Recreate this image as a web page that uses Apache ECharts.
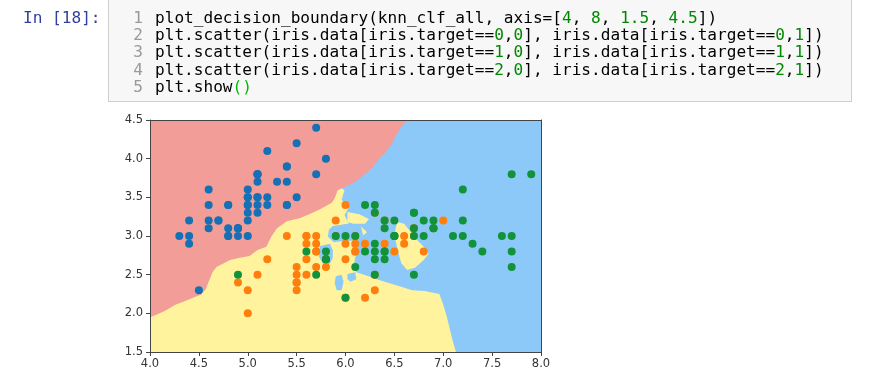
<!DOCTYPE html>
<html>
<head>
<meta charset="utf-8">
<script src="https://cdn.jsdelivr.net/npm/echarts@6/dist/echarts.min.js"></script>
<style>
  html,body{margin:0;padding:0;background:#fff;width:874px;height:376px;overflow:hidden;}
  #chart{position:absolute;left:0;top:0;width:874px;height:376px;}
  #prompt{position:absolute;left:23px;top:9px;height:17px;line-height:17px;font-family:"DejaVu Sans Mono",monospace;font-size:16.1px;color:#303F9F;z-index:5;white-space:pre;}
  #cell{position:absolute;left:108px;top:-2px;width:744px;height:104px;background:#f7f7f7;border:1px solid #cfcfcf;box-sizing:border-box;z-index:4;}
  .ln{position:absolute;left:108px;width:35px;text-align:right;height:17px;line-height:17px;font-family:"DejaVu Sans Mono",monospace;font-size:16.1px;color:#999;z-index:5;}
  .code{position:absolute;left:155px;height:17px;line-height:17px;font-family:"DejaVu Sans Mono",monospace;font-size:16.1px;color:#000;z-index:5;white-space:pre;}
  .n{color:#008800;}
  .b{color:#00bb00;}
</style>
</head>
<body>
<div id="chart"></div>
<div id="cell"></div>
<div id="prompt">In [18]:</div>
<div class="ln" style="top:9px">1</div>
<div class="ln" style="top:26px">2</div>
<div class="ln" style="top:43px">3</div>
<div class="ln" style="top:61px">4</div>
<div class="ln" style="top:78px">5</div>
<div class="code" style="top:9px">plot_decision_boundary(knn_clf_all, axis=[<span class="n">4</span>, <span class="n">8</span>, <span class="n">1.5</span>, <span class="n">4.5</span>])</div>
<div class="code" style="top:26px">plt.scatter(iris.data[iris.target==<span class="n">0</span>,<span class="n">0</span>], iris.data[iris.target==<span class="n">0</span>,<span class="n">1</span>])</div>
<div class="code" style="top:43px">plt.scatter(iris.data[iris.target==<span class="n">1</span>,<span class="n">0</span>], iris.data[iris.target==<span class="n">1</span>,<span class="n">1</span>])</div>
<div class="code" style="top:61px">plt.scatter(iris.data[iris.target==<span class="n">2</span>,<span class="n">0</span>], iris.data[iris.target==<span class="n">2</span>,<span class="n">1</span>])</div>
<div class="code" style="top:78px">plt.show<span class="b">()</span></div>
<script>
// ---- data: iris sepal length / sepal width ----
var setosa = [[5.1,3.5],[4.9,3.0],[4.7,3.2],[4.6,3.1],[5.0,3.6],[5.4,3.9],[4.6,3.4],[5.0,3.4],[4.4,2.9],[4.9,3.1],
  [5.4,3.7],[4.8,3.4],[4.8,3.0],[4.3,3.0],[5.8,4.0],[5.7,4.4],[5.4,3.9],[5.1,3.5],[5.7,3.8],[5.1,3.8],
  [5.4,3.4],[5.1,3.7],[4.6,3.6],[5.1,3.3],[4.8,3.4],[5.0,3.0],[5.0,3.4],[5.2,3.5],[5.2,3.4],[4.7,3.2],
  [4.8,3.1],[5.4,3.4],[5.2,4.1],[5.5,4.2],[4.9,3.1],[5.0,3.2],[5.5,3.5],[4.9,3.1],[4.4,3.0],[5.1,3.4],
  [5.0,3.5],[4.5,2.3],[4.4,3.2],[5.0,3.5],[5.1,3.8],[4.8,3.0],[5.1,3.8],[4.6,3.2],[5.3,3.7],[5.0,3.3]];
var versicolor = [[7.0,3.2],[6.4,3.2],[6.9,3.1],[5.5,2.3],[6.5,2.8],[5.7,2.8],[6.3,3.3],[4.9,2.4],[6.6,2.9],[5.2,2.7],
  [5.0,2.0],[5.9,3.0],[6.0,2.2],[6.1,2.9],[5.6,2.9],[6.7,3.1],[5.6,3.0],[5.8,2.7],[6.2,2.2],[5.6,2.5],
  [5.9,3.2],[6.1,2.8],[6.3,2.5],[6.1,2.8],[6.4,2.9],[6.6,3.0],[6.8,2.8],[6.7,3.0],[6.0,2.9],[5.7,2.6],
  [5.5,2.4],[5.5,2.4],[5.8,2.7],[6.0,2.7],[5.4,3.0],[6.0,3.4],[6.7,3.1],[6.3,2.3],[5.6,3.0],[5.5,2.5],
  [5.5,2.6],[6.1,3.0],[5.8,2.6],[5.0,2.3],[5.6,2.7],[5.7,3.0],[5.7,2.9],[6.2,2.9],[5.1,2.5],[5.7,2.8]];
var virginica = [[6.3,3.3],[5.8,2.7],[7.1,3.0],[6.3,2.9],[6.5,3.0],[7.6,3.0],[4.9,2.5],[7.3,2.9],[6.7,2.5],[7.2,3.6],
  [6.5,3.2],[6.4,2.7],[6.8,3.0],[5.7,2.5],[5.8,2.8],[6.4,3.2],[6.5,3.0],[7.7,3.8],[7.7,2.6],[6.0,2.2],
  [6.9,3.2],[5.6,2.8],[7.7,2.8],[6.3,2.7],[6.7,3.3],[7.2,3.2],[6.2,2.8],[6.1,3.0],[6.4,2.8],[7.2,3.0],
  [7.4,2.8],[7.9,3.8],[6.4,2.8],[6.3,2.8],[6.1,2.6],[7.7,3.0],[6.3,3.4],[6.4,3.1],[6.0,3.0],[6.9,3.1],
  [6.7,3.1],[6.9,3.1],[5.8,2.7],[6.8,3.2],[6.7,3.3],[6.7,3.0],[6.3,2.5],[6.5,3.0],[6.2,3.4],[5.9,3.0]];

// ---- decision regions (data-space outlines) ----
var pinkRegion = [[4.00,4.50],[6.63,4.50],[6.57,4.41],[6.52,4.31],[6.47,4.18],[6.40,4.07],[6.33,3.98],[6.28,3.89],
  [6.21,3.81],[6.12,3.72],[6.04,3.66],[5.97,3.62],[5.92,3.59],[5.89,3.49],[5.86,3.43],[5.73,3.34],[5.63,3.28],
  [5.53,3.23],[5.40,3.19],[5.30,3.10],[5.24,2.99],[5.19,2.86],[5.10,2.82],[5.02,2.74],[4.92,2.72],[4.82,2.69],
  [4.68,2.60],[4.64,2.53],[4.60,2.41],[4.57,2.31],[4.52,2.24],[4.44,2.20],[4.36,2.16],[4.26,2.11],[4.15,2.03],
  [4.06,1.98],[4.00,1.95]];
var blueRegion = [[5.84,4.50],[8.00,4.50],[8.00,1.50],[7.13,1.50],[7.10,1.63],[7.07,1.78],[7.04,1.94],[7.00,2.11],
  [6.96,2.25],[6.81,2.29],[6.68,2.30],[6.58,2.34],[6.45,2.39],[6.32,2.44],[6.19,2.50],[6.11,2.53],[6.09,2.66],
  [6.11,2.79],[6.06,2.87],[6.14,2.97],[6.22,3.05],[6.16,3.12],[6.04,3.14],[5.99,3.27],[6.03,3.36],[5.96,3.47],
  [5.99,3.59],[5.84,3.72]];
var blueBay = [[5.87,3.13],[6.02,3.16],[6.16,3.12],[6.18,3.01],[6.12,2.94],[5.99,2.94],[5.88,2.92],[5.82,2.99],[5.83,3.08]];
var blueLobe = [[5.74,2.87],[5.84,2.90],[5.87,2.82],[5.87,2.72],[5.84,2.64],[5.77,2.64],[5.73,2.73],[5.73,2.82]];
var blueIslandA = [[5.90,2.48],[5.96,2.50],[5.98,2.41],[5.96,2.30],[5.91,2.30],[5.89,2.39]];
var blueIslandB = [[6.02,2.51],[6.10,2.53],[6.11,2.44],[6.05,2.41],[6.02,2.44]];
var yellowSpur = [[6.02,3.31],[6.14,3.28],[6.24,3.22],[6.20,3.16],[6.08,3.16],[6.02,3.18]];
var yellowPeninsula = [[6.53,3.18],[6.60,3.16],[6.67,3.05],[6.73,2.95],[6.80,2.86],[6.85,2.77],[6.80,2.69],
  [6.71,2.59],[6.63,2.56],[6.57,2.65],[6.54,2.79],[6.51,2.95],[6.51,3.08]];

var xTicks = [4.0, 4.5, 5.0, 5.5, 6.0, 6.5, 7.0, 7.5, 8.0];
var yTicks = [1.5, 2.0, 2.5, 3.0, 3.5, 4.0, 4.5];

var COL_PINK = '#F29D98', COL_YELLOW = '#FFF49D', COL_BLUE = '#8CC9F9';

function region(points, color, z) {
  return {
    type: 'custom', coordinateSystem: 'cartesian2d', silent: true, z: z, clip: true,
    data: [points[0]],
    renderItem: function (params, api) {
      return {
        type: 'polygon',
        shape: { points: points.map(function (p) { return api.coord(p); }) },
        style: { fill: color }
      };
    }
  };
}

var chart = echarts.init(document.getElementById('chart'), null, { renderer: 'canvas' });
var labelStyle = { color: '#333', fontFamily: 'DejaVu Sans', fontSize: 11.5 };
var option = {
  animation: false,
  backgroundColor: '#fff',
  grid: { left: 150, top: 120, width: 391, height: 232, show: true, backgroundColor: COL_YELLOW, borderWidth: 0 },
  xAxis: [
    { type: 'value', position: 'bottom', min: xTicks[0], max: xTicks[xTicks.length - 1], interval: 0.5, z: 20,
      axisLine: { show: true, onZero: false, lineStyle: { color: '#444', width: 1 } },
      axisTick: { show: true, inside: false, length: 4, lineStyle: { color: '#444' } },
      axisLabel: Object.assign({ margin: 6, formatter: function (v) { return v.toFixed(1); } }, labelStyle),
      splitLine: { show: false } },
    { type: 'value', position: 'top', min: xTicks[0], max: xTicks[xTicks.length - 1], z: 20,
      axisLine: { show: true, onZero: false, lineStyle: { color: '#444', width: 1 } },
      axisTick: { show: false }, axisLabel: { show: false }, splitLine: { show: false } }
  ],
  yAxis: [
    { type: 'value', position: 'left', min: yTicks[0], max: yTicks[yTicks.length - 1], interval: 0.5, z: 20,
      axisLine: { show: true, onZero: false, lineStyle: { color: '#444', width: 1 } },
      axisTick: { show: true, inside: false, length: 4, lineStyle: { color: '#444' } },
      axisLabel: Object.assign({ margin: 7, formatter: function (v) { return v.toFixed(1); } }, labelStyle),
      splitLine: { show: false } },
    { type: 'value', position: 'right', min: yTicks[0], max: yTicks[yTicks.length - 1], z: 20,
      axisLine: { show: true, onZero: false, lineStyle: { color: '#444', width: 1 } },
      axisTick: { show: false }, axisLabel: { show: false }, splitLine: { show: false } }
  ],
  series: [
    region(blueRegion, COL_BLUE, 1),
    region(blueBay, COL_BLUE, 2),
    region(blueLobe, COL_BLUE, 2),
    region(blueIslandA, COL_BLUE, 2),
    region(blueIslandB, COL_BLUE, 2),
    region(yellowSpur, COL_YELLOW, 3),
    region(yellowPeninsula, COL_YELLOW, 3),
    region(pinkRegion, COL_PINK, 4),
    { type: 'scatter', data: setosa, symbolSize: 8, z: 10, silent: true, itemStyle: { color: '#1570b5', opacity: 1 } },
    { type: 'scatter', data: versicolor, symbolSize: 8, z: 11, silent: true, itemStyle: { color: '#ff7f0e', opacity: 1 } },
    { type: 'scatter', data: virginica, symbolSize: 8, z: 12, silent: true, itemStyle: { color: '#12923a', opacity: 1 } }
  ]
};
chart.setOption(option);
</script>
</body>
</html>
